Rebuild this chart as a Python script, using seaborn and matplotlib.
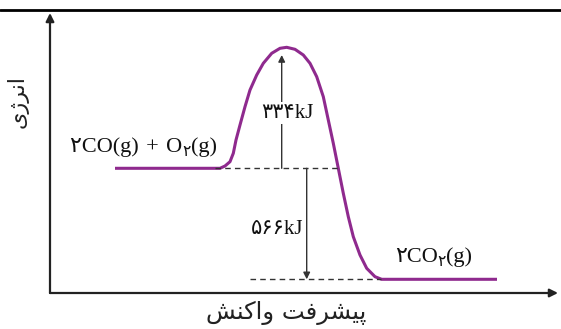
import pandas as pd
import seaborn as sns
import matplotlib
matplotlib.use('Agg')
import matplotlib.pyplot as plt
from matplotlib.lines import Line2D

# reaction profile, schematic energy units
progress = [65, 160, 170, 175, 180, 183.3, 186, 190, 195, 200, 206.7, 213.3,
            221.7, 230, 236.7, 245, 253.3, 260, 266.7, 273.3, 278.3, 283.3,
            288.3, 293.3, 298.3, 303.3, 310, 316.7, 325, 331.7, 447]
energy = [124.7, 124.7, 124.7, 127, 131.3, 139.7, 153, 168, 186.3, 203, 218, 229.7,
          239.7, 244.7, 245.7, 243.7, 238, 229.7, 216.3, 196.3, 173, 149.7,
          124.7, 99.7, 76.3, 56.3, 38, 24.7, 16.3, 13.7, 13.7]

reactant_level = 124.7
product_level = 13.7
peak_arrow_top = 238
reactant_dash = [165, 290]
product_dash = [200, 331]
ea_x = 231.7
dh_x = 256.7

ea_label = '۳۳۴kJ'
dh_label = '۵۶۶kJ'
reactant_parts = [('۲CO(g)\u2004+\u2004O', False), ('۲', True), ('(g)', False)]
product_parts = [('۲CO', False), ('۲', True), ('(g)', False)]
# Persian text in visual (presentation-form) order
ylabel_txt = '\uFBFC\uFB8A\uFEAE\uFEE7\uFE8D'                     # انرژی
xlabel_txt = '\uFEB6\uFEE8\uFB90\uFE8D\uFEED \uFE96\uFED3\uFEAE\uFEB8\uFBFF\uFB58'  # پیشرفت واکنش

sns.set_theme(style='white')
FAM = ['Liberation Serif', 'DejaVu Sans']
plt.rcParams['font.family'] = FAM

purple = '#8F2A8E'
ink = '#222222'

fig = plt.figure(figsize=(5.61, 3.29), dpi=100)
ax = fig.add_axes([50 / 561, 36 / 329, 508 / 561, 280 / 329])
ax.set_xlim(0, 508)
ax.set_ylim(0, 280)
for s in ax.spines.values():
    s.set_visible(False)
ax.set_xticks([])
ax.set_yticks([])

df = pd.DataFrame({'progress': progress, 'energy': energy})
sns.lineplot(data=df, x='progress', y='energy', ax=ax, color=purple, lw=2.2,
             estimator=None, sort=False, solid_capstyle='butt',
             solid_joinstyle='round')

# axes arrows
ax.annotate('', xy=(0, 1.0), xytext=(0, 0), xycoords='axes fraction',
            arrowprops=dict(arrowstyle='-|>', color=ink, lw=1.6,
                            mutation_scale=12, shrinkA=0, shrinkB=0))
ax.annotate('', xy=(1.0, 0), xytext=(0, 0), xycoords='axes fraction',
            arrowprops=dict(arrowstyle='-|>', color=ink, lw=1.6,
                            mutation_scale=12, shrinkA=0, shrinkB=0))

# dashed guide lines
ax.plot(reactant_dash, [reactant_level] * 2, ls=(0, (4, 3)), color='#333333', lw=1)
ax.plot(product_dash, [product_level] * 2, ls=(0, (4, 3)), color='#333333', lw=1)

# energy arrows
ax.annotate('', xy=(ea_x, peak_arrow_top), xytext=(ea_x, reactant_level),
            arrowprops=dict(arrowstyle='-|>', color='#333333', lw=1,
                            mutation_scale=10, shrinkA=0, shrinkB=0))
ax.text(ea_x + 6, 180, ea_label, ha='center', va='center', fontsize=15,
        color='#111111', bbox=dict(fc='white', ec='none', pad=1))
ax.annotate('', xy=(dh_x, product_level), xytext=(dh_x, reactant_level),
            arrowprops=dict(arrowstyle='-|>', color='#333333', lw=1,
                            mutation_scale=10, shrinkA=0, shrinkB=0))
ax.text(dh_x - 3.5, 64, dh_label, ha='right', va='center', fontsize=15, color='#111111')


def chem(x, y, parts, size):
    r = fig.canvas.get_renderer()
    dx = 0
    for s, sub in parts:
        t = ax.annotate(s, (x, y), xytext=(dx, -3 if sub else 0),
                        textcoords='offset points', fontsize=size * 0.7 if sub else size,
                        va='baseline', ha='left', color='#111111')
        dx += t.get_window_extent(r).width * 72 / fig.dpi


chem(20, 141, reactant_parts, 16)
chem(345, 31, product_parts, 16)

fig.text(18 / 561, 1 - 102 / 329, ylabel_txt, rotation=90, ha='center', va='center',
         fontsize=16, family='DejaVu Sans', color='#222222')
fig.text(286 / 561, 1 - 313 / 329, xlabel_txt, ha='center', va='center',
         fontsize=17.5, family='DejaVu Sans', color='#222222')

fig.add_artist(Line2D([0, 1], [1 - 10 / 329] * 2, color='black', lw=2,
                      transform=fig.transFigure))

fig.savefig('out.png', dpi=100)
